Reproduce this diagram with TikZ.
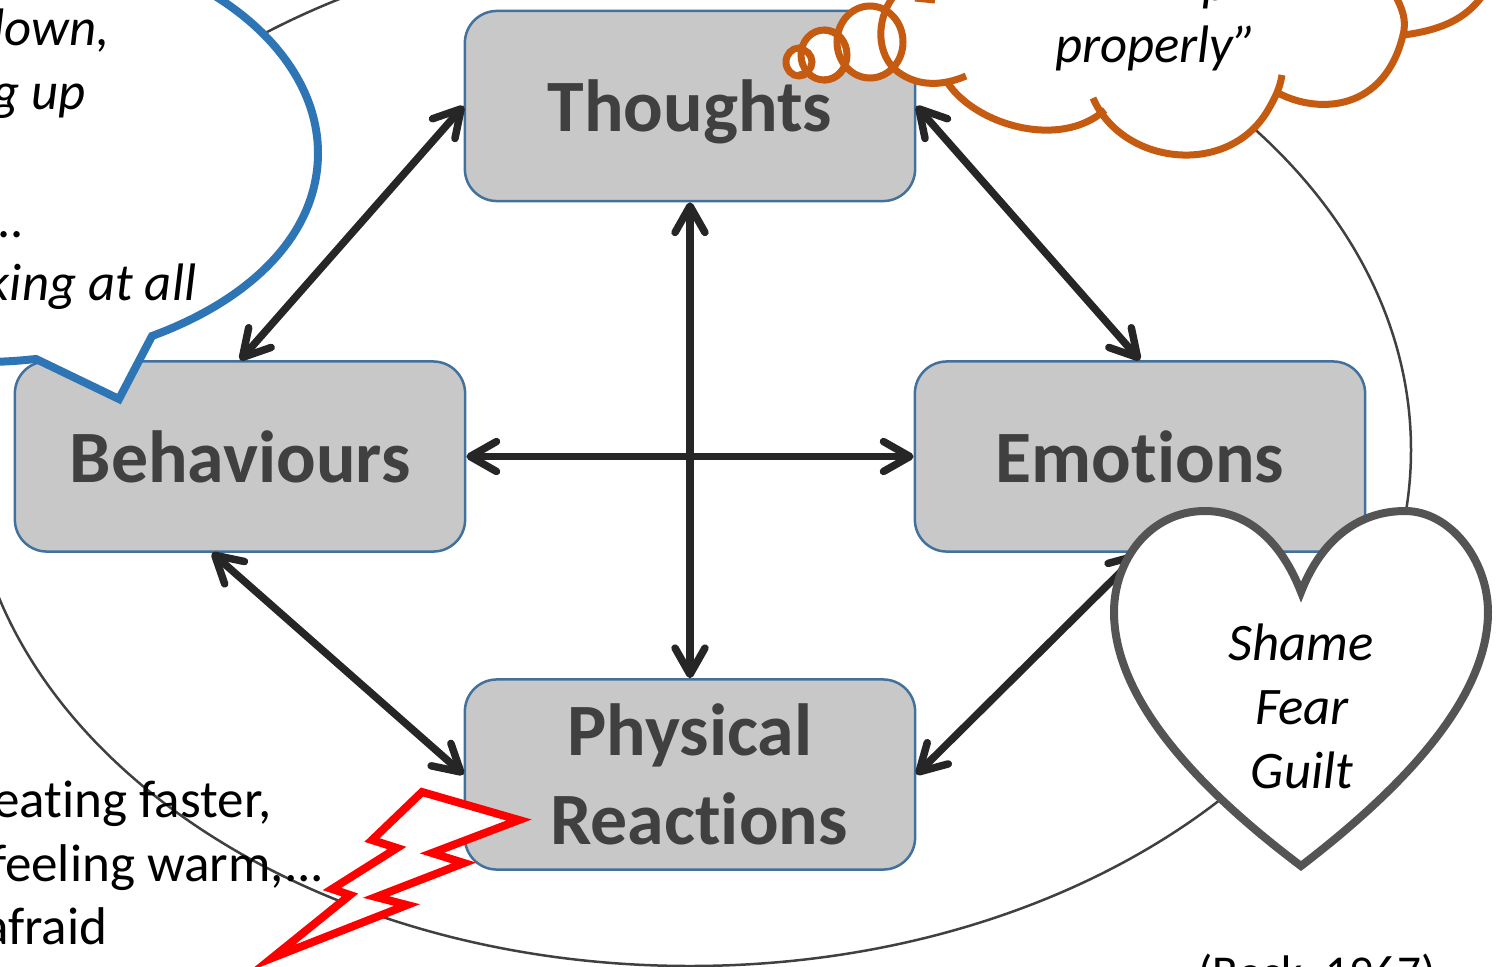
\documentclass[tikz,border=0pt]{standalone}
\usepackage{fontspec}
\setmainfont[Ligatures=NoCommon]{Carlito}
\usepackage{xcolor}
\usetikzlibrary{arrows.meta}
\definecolor{boxfill}{HTML}{C8C8C8}
\definecolor{boxline}{HTML}{41719C}
\definecolor{boxtext}{HTML}{404040}
\definecolor{linkdark}{HTML}{262626}
\definecolor{calloutblue}{HTML}{2E75B6}
\definecolor{cloudorange}{HTML}{C55A11}
\definecolor{heartgrey}{HTML}{545454}
\tikzset{
    boxnode/.style={draw=boxline, fill=boxfill, line width=0.025cm, rounded corners=0.32cm, minimum width=4.5cm, minimum height=1.9cm, inner sep=0pt, align=center, text=boxtext, font=\fontsize{21pt}{25.4pt}\selectfont\bfseries},
    linkarrow/.style={draw=linkdark, line width=0.075cm, {Straight Barb[round, length=7.5pt, width=8.5pt]}-{Straight Barb[round, length=7.5pt, width=8.5pt]}},
    smalltext/.style={inner sep=0pt, font=\fontsize{15.1pt}{18.2pt}\selectfont},
    thoughttext/.style={smalltext, font=\fontsize{15pt}{18.2pt}\selectfont\itshape},
    cloudline/.style={draw=cloudorange, line width=0.07cm},
    bubbleline/.style={draw=cloudorange, fill=white, line width=0.07cm},
}

\begin{document}
\begin{tikzpicture}[x=0.01cm, y=-0.01cm]
        \useasboundingbox (0,0) rectangle (1499,966);
        \clip (0,0) rectangle (1499,966);

        % outer ring
        \draw [boxtext, line width=0.025cm] (690,450) ellipse [x radius=721, y radius=516];

        % boxes
        \node [boxnode, text depth=0pt] (thoughts) at (690,106) {Thoughts};
        \node [boxnode] (behaviours) at (240,456.5) {Behaviours};
        \node [boxnode] (emotions) at (1140,456.5) {Emotions};
        \node [boxnode] (reactions) at (690,774.5) {Physical\\\hspace*{0.18cm}Reactions};

        % links
        \draw [linkarrow] (thoughts.west) -- (behaviours.north);
        \draw [linkarrow] (thoughts.east) -- (emotions.north);
        \draw [linkarrow] (thoughts.south) -- (reactions.north);
        \draw [linkarrow] (behaviours.east) -- (emotions.west);
        \draw [linkarrow] ([xshift=-0.28cm]behaviours.south) -- (reactions.west);
        \draw [linkarrow] (reactions.east) -- (emotions.south);

        % speech bubble
        \draw [draw=calloutblue, fill=white, line width=0.08cm, miter limit=10] (205,-10) .. controls (275,30) and (318,90) .. (318,153) .. controls (318,235) and (250,300) .. (152,336) -- (119,399) -- (36,359) .. controls (25,360) and (10,362) .. (-20,362) -- (-20,-10) -- cycle;
        \node [thoughttext, anchor=base east] (saidA) at (110,45) {down,};
        \node [thoughttext, anchor=base east] (saidB) at (86,109) {g up};
        \node [thoughttext, anchor=base east] (saidC) at (26,237) {...};
        \node [thoughttext, anchor=base east] (saidD) at (197,300) {king at all};

        % thought cloud
        \fill [white] (893,-10) -- (880,35) -- (897,75) -- (947,82) .. controls (975,125) and (1060,150) .. (1100,112) .. controls (1125,160) and (1230,180) .. (1278,95) .. controls (1320,115) and (1385,110) .. (1405,35) .. controls (1440,30) and (1465,20) .. (1485,-10) -- cycle;
        \draw [bubbleline] (799,62) ellipse [x radius=13, y radius=14];
        \draw [bubbleline] (824,55) ellipse [x radius=23, y radius=25];
        \draw [bubbleline] (870,42) ellipse [x radius=33, y radius=36];
        \draw [cloudline, fill=none] (799,49) arc [start angle=-90, end angle=90, x radius=13, y radius=13];
        \draw [cloudline] (824,30) .. controls (838,30) and (847,42) .. (847,55) .. controls (847,68) and (838,80) .. (824,80);
        \draw [cloudline] (893,-3) .. controls (876,20) and (876,55) .. (898,72) .. controls (920,88) and (945,85) .. (966,76);
        \draw [cloudline] (947,82) .. controls (975,125) and (1060,150) .. (1105,110);
        \draw [cloudline] (1093,98) .. controls (1122,165) and (1228,178) .. (1268,110) .. controls (1275,98) and (1280,88) .. (1282,75);
        \draw [cloudline] (1278,93) .. controls (1320,115) and (1385,110) .. (1403,35) .. controls (1407,20) and (1402,8) .. (1395,-5);
        \draw [cloudline] (1404,35) .. controls (1440,30) and (1465,20) .. (1483,-5);
        \draw [cloudline] (915,-2) -- (935,0);
        \node [thoughttext, anchor=base] (thinkA) at (1156,62) {properly”};
        \node [thoughttext, anchor=base east] (thinkB) at (1230,0) {p};

        % heart
        \draw [draw=heartgrey, fill=white, line width=0.08cm, miter limit=10] (1301,592) .. controls (1280,538) and (1245,511) .. (1205,511) .. controls (1150,511) and (1114,560) .. (1114,612) .. controls (1114,700) and (1200,790) .. (1301,866) .. controls (1400,790) and (1488,700) .. (1488,612) .. controls (1488,560) and (1450,511) .. (1405,511) .. controls (1360,511) and (1322,538) .. (1301,592) -- cycle;
        \node [thoughttext, anchor=base] (feelA) at (1301,660) {Shame};
        \node [thoughttext, anchor=base] (feelB) at (1302,724) {Fear};
        \node [thoughttext, anchor=base] (feelC) at (1302,788) {Guilt};

        % body text and lightning
        \node [smalltext, anchor=base east] (bodyA) at (272,817) {eating faster,};
        \node [smalltext, anchor=base east] (bodyB) at (325,881) {feeling warm,...};
        \node [smalltext, anchor=base east] (bodyC) at (108,944) {afraid};
        \draw [draw=red, fill=white, line width=0.08cm, miter limit=10] (422,792) -- (519,820) -- (432,853) -- (464,863) -- (376,897) -- (407,905) -- (272,958) -- (350,895) -- (332,889) -- (397,848) -- (372,840) -- cycle;

        \node [smalltext, font=\fontsize{13.4pt}{16pt}\selectfont, anchor=base] (source) at (1317,988) {(Beck, 1967)};
    \end{tikzpicture}
\end{document}
